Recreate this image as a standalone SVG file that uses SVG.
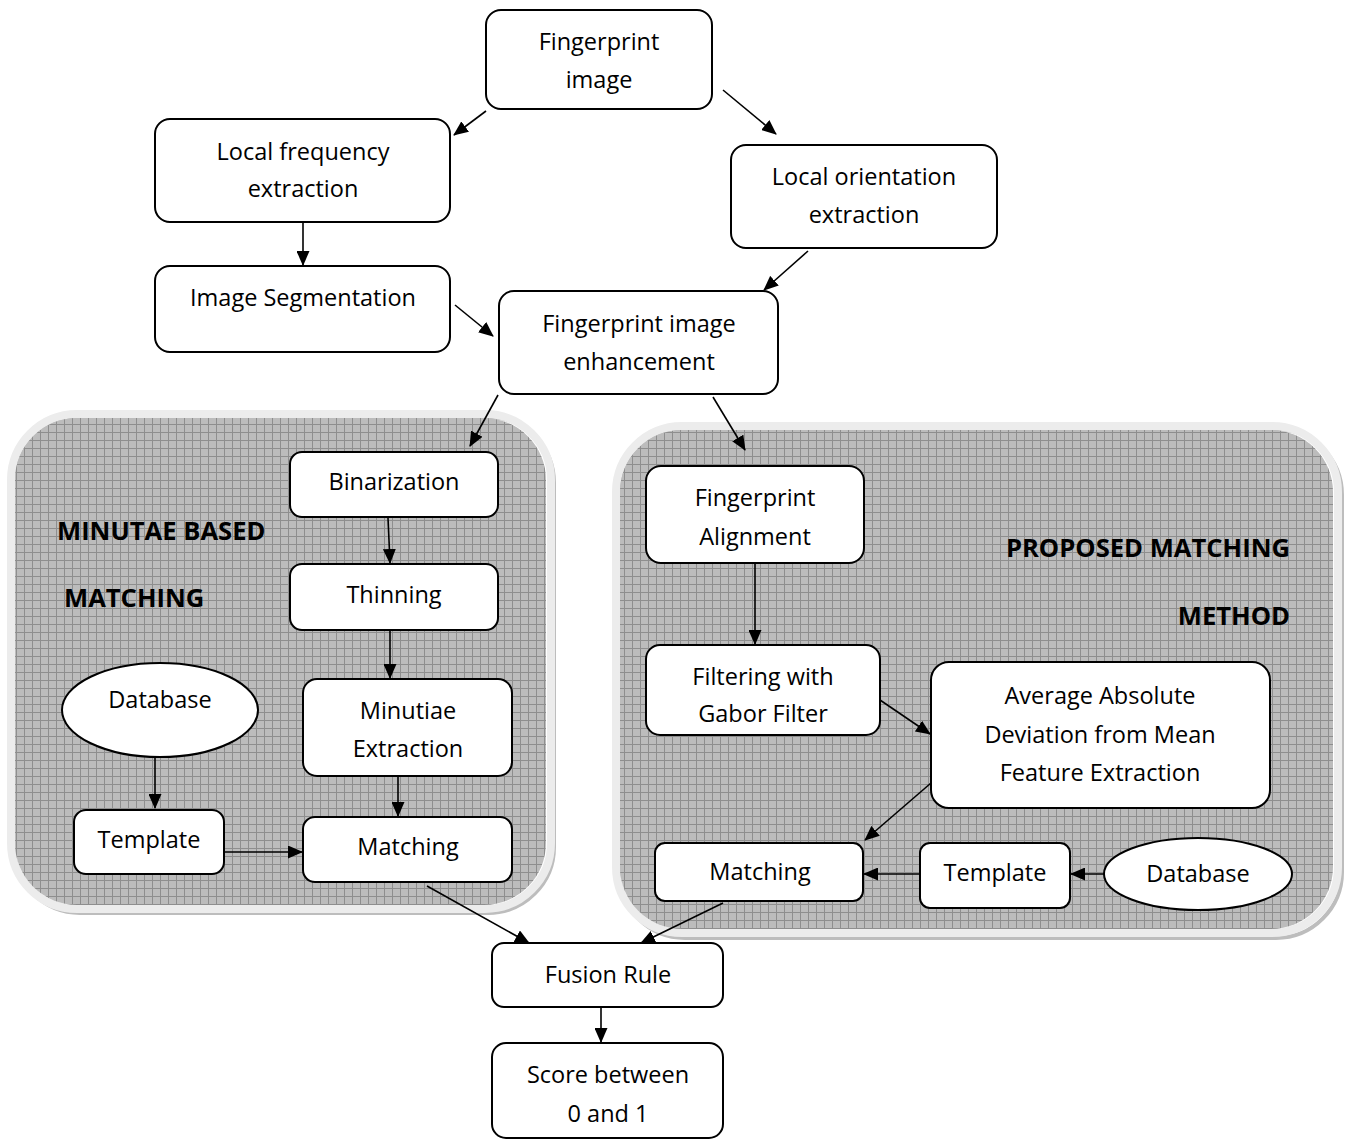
<svg xmlns="http://www.w3.org/2000/svg" width="1354" height="1140" viewBox="0 0 1354 1140">
<style>
.box{fill:#fff;stroke:#000;stroke-width:2}
.t{font-family:"Open Sans","Liberation Sans",sans-serif;font-size:23.5px;fill:#000;text-anchor:middle}
.b{font-family:"Open Sans","Liberation Sans",sans-serif;font-size:25.6px;font-weight:bold;fill:#000}
.c{stroke:#000;stroke-width:1.6;fill:none;marker-end:url(#ah)}
.panel{fill:url(#grid)}
.rim{fill:none;stroke:#ececec;stroke-width:8}
.shadow{fill:none;stroke:#bdbdbd;stroke-width:4}
</style>
<defs>
<pattern id="grid" width="8" height="8" patternUnits="userSpaceOnUse">
<rect width="8" height="8" fill="#bcbcbc"/>
<path d="M0 0.5H8M0.5 0V8" stroke="#8e8e8e" stroke-width="1"/>
</pattern>
<marker id="ah" markerWidth="15" markerHeight="13" refX="14" refY="6.5" orient="auto" markerUnits="userSpaceOnUse">
<path d="M0 0L15 6.5L0 13Z" fill="#000"/>
</marker>
</defs>
<rect width="1354" height="1140" fill="#fff"/>
<g id="panel-left">
<rect class="shadow" x="14" y="417" width="540" height="496" rx="66"/>
<rect class="rim" x="11" y="414" width="540" height="495" rx="66"/>
<rect class="panel" x="15" y="418" width="531" height="487" rx="62"/>
<text class="b" x="57" y="540">MINUTAE BASED</text>
<text class="b" x="64" y="607">MATCHING</text>
</g>
<g id="panel-right">
<rect class="shadow" x="619" y="429" width="723" height="509" rx="66"/>
<rect class="rim" x="616" y="426" width="722" height="507" rx="66"/>
<rect class="panel" x="620" y="430" width="713" height="499" rx="62"/>
<text class="b" x="1290" y="557" text-anchor="end">PROPOSED MATCHING</text>
<text class="b" x="1290" y="625" text-anchor="end">METHOD</text>
</g>
<g id="connectors">
<line class="c" x1="486" y1="111" x2="454" y2="135"/>
<line class="c" x1="723" y1="90" x2="776" y2="134"/>
<line class="c" x1="303" y1="222" x2="303" y2="265"/>
<line class="c" x1="808" y1="251" x2="764" y2="290"/>
<line class="c" x1="455" y1="305" x2="493" y2="336"/>
<line class="c" x1="498" y1="395" x2="470" y2="446"/>
<line class="c" x1="713" y1="397" x2="745" y2="450"/>
<line class="c" x1="388" y1="518" x2="390" y2="563"/>
<line class="c" x1="390" y1="631" x2="390" y2="678"/>
<line class="c" x1="398" y1="777" x2="398" y2="816"/>
<line class="c" x1="155" y1="757" x2="155" y2="808"/>
<line class="c" x1="225" y1="852" x2="302" y2="852"/>
<line class="c" x1="755" y1="564" x2="755" y2="644"/>
<line class="c" x1="880" y1="700" x2="930" y2="734"/>
<line class="c" x1="931" y1="783" x2="865" y2="840"/>
<line class="c" x1="920" y1="874" x2="864" y2="874"/>
<line class="c" x1="1104" y1="874" x2="1071" y2="874"/>
<line class="c" x1="427" y1="886" x2="529" y2="943"/>
<line class="c" x1="723" y1="903" x2="641" y2="943"/>
<line class="c" x1="601" y1="1008" x2="601" y2="1042"/>
</g>
<g id="n-fp-image"><rect class="box" x="486" y="10" width="226" height="99" rx="15"/><text class="t" x="599" y="50">Fingerprint</text><text class="t" x="599" y="88">image</text></g>
<g id="n-local-freq"><rect class="box" x="155" y="119" width="295" height="103" rx="15"/><text class="t" x="303" y="160">Local frequency</text><text class="t" x="303" y="197">extraction</text></g>
<g id="n-local-orient"><rect class="box" x="731" y="145" width="266" height="103" rx="15"/><text class="t" x="864" y="185">Local orientation</text><text class="t" x="864" y="223">extraction</text></g>
<g id="n-segmentation"><rect class="box" x="155" y="266" width="295" height="86" rx="15"/><text class="t" x="303" y="306">Image Segmentation</text></g>
<g id="n-enhancement"><rect class="box" x="499" y="291" width="279" height="103" rx="15"/><text class="t" x="639" y="332">Fingerprint image</text><text class="t" x="639" y="370">enhancement</text></g>
<g id="n-binarization"><rect class="box" x="290" y="452" width="208" height="65" rx="12"/><text class="t" x="394" y="490">Binarization</text></g>
<g id="n-thinning"><rect class="box" x="290" y="564" width="208" height="66" rx="12"/><text class="t" x="394" y="603">Thinning</text></g>
<g id="n-minutiae"><rect class="box" x="303" y="679" width="209" height="97" rx="14"/><text class="t" x="408" y="719">Minutiae</text><text class="t" x="408" y="757">Extraction</text></g>
<g id="n-db-left"><ellipse class="box" cx="160" cy="710" rx="98" ry="47"/><text class="t" x="160" y="708">Database</text></g>
<g id="n-template-left"><rect class="box" x="74" y="810" width="150" height="64" rx="12"/><text class="t" x="149" y="848">Template</text></g>
<g id="n-matching-left"><rect class="box" x="303" y="817" width="209" height="65" rx="12"/><text class="t" x="408" y="855">Matching</text></g>
<g id="n-alignment"><rect class="box" x="646" y="466" width="218" height="97" rx="15"/><text class="t" x="755" y="506">Fingerprint</text><text class="t" x="755" y="545">Alignment</text></g>
<g id="n-gabor"><rect class="box" x="646" y="645" width="234" height="90" rx="14"/><text class="t" x="763" y="685">Filtering with</text><text class="t" x="763" y="722">Gabor Filter</text></g>
<g id="n-aad"><rect class="box" x="931" y="662" width="339" height="146" rx="18"/><text class="t" x="1100" y="704">Average Absolute</text><text class="t" x="1100" y="743">Deviation from Mean</text><text class="t" x="1100" y="781">Feature Extraction</text></g>
<g id="n-matching-right"><rect class="box" x="655" y="843" width="208" height="58" rx="10"/><text class="t" x="760" y="880">Matching</text></g>
<g id="n-template-right"><rect class="box" x="920" y="843" width="150" height="65" rx="10"/><text class="t" x="995" y="881">Template</text></g>
<g id="n-db-right"><ellipse class="box" cx="1198" cy="874" rx="94" ry="36"/><text class="t" x="1198" y="882">Database</text></g>
<g id="n-fusion"><rect class="box" x="492" y="943" width="231" height="64" rx="12"/><text class="t" x="608" y="983">Fusion Rule</text></g>
<g id="n-score"><rect class="box" x="492" y="1043" width="231" height="95" rx="14"/><text class="t" x="608" y="1083">Score between</text><text class="t" x="608" y="1122">0 and 1</text></g>
</svg>
